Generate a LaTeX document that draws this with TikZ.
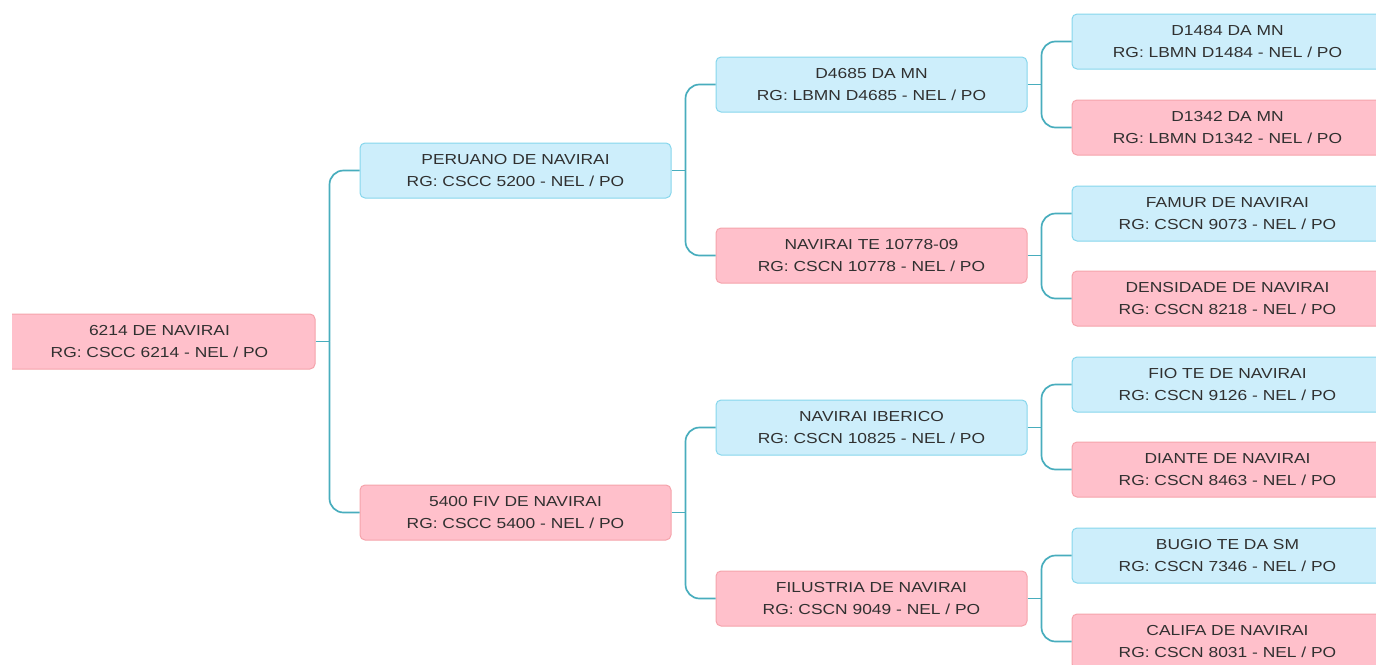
\documentclass[tikz,border=0pt]{standalone}
\usepackage{fontspec}
\setmainfont[FakeStretch=1.2]{Liberation Sans}
\definecolor{bfill}{HTML}{CDEEFB}
\definecolor{bline}{HTML}{86D6EC}
\definecolor{pfill}{HTML}{FFC0CB}
\definecolor{pline}{HTML}{F5A3AB}
\definecolor{conncol}{HTML}{48ADBD}
\definecolor{txt}{HTML}{303030}
\begin{document}
\begin{tikzpicture}[x=1pt,y=-1pt,
  box/.style={rectangle, rounded corners=5pt, minimum width=311pt, minimum height=55pt,
    align=center, font=\fontsize{14.5}{21.6}\selectfont, text=txt, inner sep=0pt, line width=1pt},
  bluebox/.style={box, fill=bfill, draw=bline},
  pinkbox/.style={box, fill=pfill, draw=pline},
  conn/.style={draw=conncol, line width=1.7pt, rounded corners=14pt}]
\useasboundingbox (0,0) rectangle (1376,664);
\clip (0,0) rectangle (1376,664);
\begin{scope}
\clip (12,0) rectangle (1376,664);
\node[pinkbox] (r) at (159.5,341.5) {6214 DE NAVIRAI\\RG: CSCC 6214 - NEL / PO};
\end{scope}
% level 1
\node[bluebox] (a) at (515.5,170.5) {PERUANO DE NAVIRAI\\RG: CSCC 5200 - NEL / PO};
\node[pinkbox] (b) at (515.5,512.5) {5400 FIV DE NAVIRAI\\RG: CSCC 5400 - NEL / PO};
% level 2
\node[bluebox] (aa) at (871.5,84.5) {D4685 DA MN\\RG: LBMN D4685 - NEL / PO};
\node[pinkbox] (ab) at (871.5,255.5) {NAVIRAI TE 10778-09\\RG: CSCN 10778 - NEL / PO};
\node[bluebox] (ba) at (871.5,427.5) {NAVIRAI IBERICO\\RG: CSCN 10825 - NEL / PO};
\node[pinkbox] (bb) at (871.5,598.5) {FILUSTRIA DE NAVIRAI\\RG: CSCN 9049 - NEL / PO};
% level 3
\node[bluebox] (aaa) at (1227.5,41.5) {D1484 DA MN\\RG: LBMN D1484 - NEL / PO};
\node[pinkbox] (aab) at (1227.5,127.5) {D1342 DA MN\\RG: LBMN D1342 - NEL / PO};
\node[bluebox] (aba) at (1227.5,213.5) {FAMUR DE NAVIRAI\\RG: CSCN 9073 - NEL / PO};
\node[pinkbox] (abb) at (1227.5,298.5) {DENSIDADE DE NAVIRAI\\RG: CSCN 8218 - NEL / PO};
\node[bluebox] (baa) at (1227.5,384.5) {FIO TE DE NAVIRAI\\RG: CSCN 9126 - NEL / PO};
\node[pinkbox] (bab) at (1227.5,469.5) {DIANTE DE NAVIRAI\\RG: CSCN 8463 - NEL / PO};
\node[bluebox] (bba) at (1227.5,555.5) {BUGIO TE DA SM\\RG: CSCN 7346 - NEL / PO};
\node[pinkbox] (bbb) at (1227.5,641.5) {CALIFA DE NAVIRAI\\RG: CSCN 8031 - NEL / PO};
% connectors
\foreach \p/\c/\d in {r/a/b, a/aa/ab, b/ba/bb, aa/aaa/aab, ab/aba/abb, ba/baa/bab, bb/bba/bbb}{
  \draw[conn] (\p.east) -- ++(14,0) coordinate (j\p);
  \draw[conn] (j\p) |- (\c.west);
  \draw[conn] (j\p) |- (\d.west);
}
\end{tikzpicture}
\end{document}
